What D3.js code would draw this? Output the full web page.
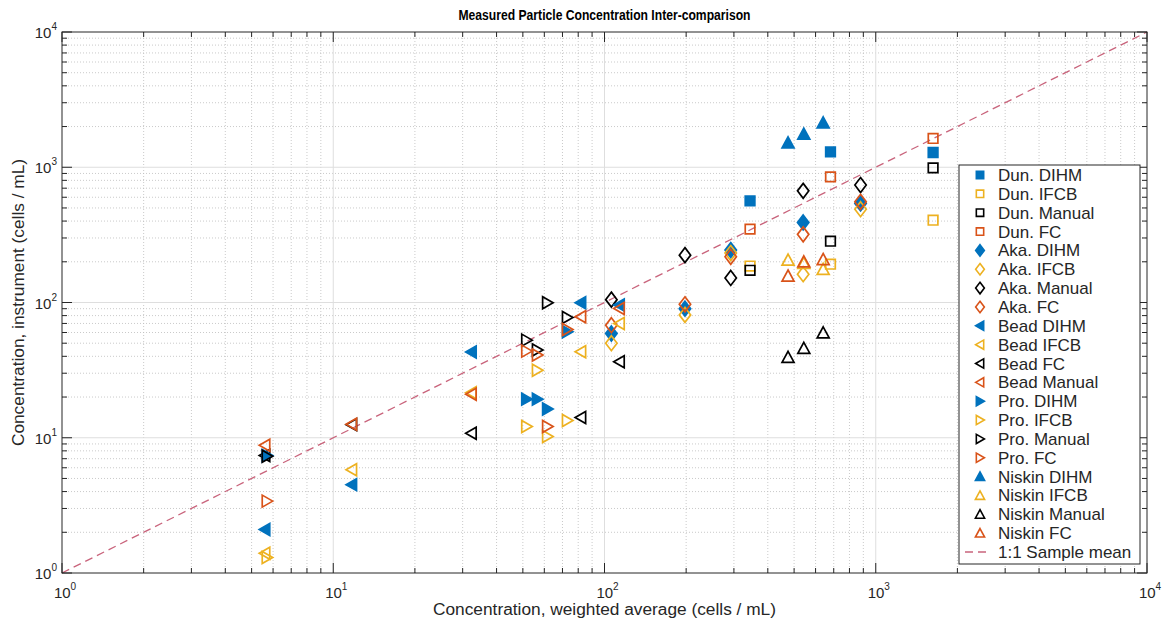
<!DOCTYPE html>
<html>
<head>
<meta charset="utf-8">
<script src="https://cdn.jsdelivr.net/npm/d3@7"></script>
<style>
  body { margin: 0; background: #fff; }
  svg { font-family: "Liberation Sans", Arial, sans-serif; }
</style>
</head>
<body>
<svg id="chart" width="1168" height="624"></svg>
<script>
// Sample concentrations: x = weighted average, one array per instrument (cells / mL)
const dunX      = [344, 681, 1627];
const dunDIHM   = [565, 1300, 1286];
const dunIFCB   = [186, 192, 406];
const dunManual = [173, 284, 990];
const dunFC     = [349, 849, 1633];

const akaX      = [106, 198, 292, 540, 879];
const akaDIHM   = [59, 90, 244, 391, 540];
const akaIFCB   = [50, 81, 232, 162, 490];
const akaManual = [105, 224, 152, 669, 738];
const akaFC     = [68, 97, 218, 319, 555];

const beadX      = [5.6, 11.7, 32.3, 81.8, 113.5];
const beadDIHM   = [2.1, 4.5, 43, 99.5, 95.7];
const beadIFCB   = [1.4, 5.8, 21.5, 43.2, 70];
const beadFC     = [7.4, 12.5, 10.8, 14.1, 36.5];
const beadManual = [8.8, 12.6, 21, 78.4, 90.4];

const proX      = [5.7, 51.6, 56.5, 61.6, 72.9];
const proDIHM   = [7.4, 19.3, 19.3, 16.3, 60.7];
const proIFCB   = [1.3, 12.1, 31.6, 10.2, 13.4];
const proManual = [7.3, 52.7, 44.5, 99.5, 77.6];
const proFC     = [3.4, 43.7, 40.9, 12.1, 63.2];

const niskinX      = [475, 543, 640];
const niskinDIHM   = [1514, 1757, 2130];
const niskinIFCB   = [206, 195, 176];
const niskinManual = [39.3, 45.8, 59.7];
const niskinFC     = [157, 200, 208];

const axisDomain = [1, 1e4];
const decades = [0, 1, 2, 3, 4];

// legend order; colour goes by position inside each group of four
const series = [
  { label: "Dun. DIHM",     shape: "square",  x: dunX,    y: dunDIHM },
  { label: "Dun. IFCB",     shape: "square",  x: dunX,    y: dunIFCB },
  { label: "Dun. Manual",   shape: "square",  x: dunX,    y: dunManual },
  { label: "Dun. FC",       shape: "square",  x: dunX,    y: dunFC },
  { label: "Aka. DIHM",     shape: "diamond", x: akaX,    y: akaDIHM },
  { label: "Aka. IFCB",     shape: "diamond", x: akaX,    y: akaIFCB },
  { label: "Aka. Manual",   shape: "diamond", x: akaX,    y: akaManual },
  { label: "Aka. FC",       shape: "diamond", x: akaX,    y: akaFC },
  { label: "Bead DIHM",     shape: "left",    x: beadX,   y: beadDIHM },
  { label: "Bead IFCB",     shape: "left",    x: beadX,   y: beadIFCB },
  { label: "Bead FC",       shape: "left",    x: beadX,   y: beadFC },
  { label: "Bead Manual",   shape: "left",    x: beadX,   y: beadManual },
  { label: "Pro. DIHM",     shape: "right",   x: proX,    y: proDIHM },
  { label: "Pro. IFCB",     shape: "right",   x: proX,    y: proIFCB },
  { label: "Pro. Manual",   shape: "right",   x: proX,    y: proManual },
  { label: "Pro. FC",       shape: "right",   x: proX,    y: proFC },
  { label: "Niskin DIHM",   shape: "up",      x: niskinX, y: niskinDIHM },
  { label: "Niskin IFCB",   shape: "up",      x: niskinX, y: niskinIFCB },
  { label: "Niskin Manual", shape: "up",      x: niskinX, y: niskinManual },
  { label: "Niskin FC",     shape: "up",      x: niskinX, y: niskinFC }
];

const palette = ["#0072bd", "#edb120", "#000000", "#d95319"];
const lineColor = "#c9647c";

const svg = d3.select("#chart");
const margin = { top: 32, right: 21, bottom: 51, left: 62 };
const W = 1168, H = 624;

const x = d3.scaleLog().domain(axisDomain).range([margin.left, W - margin.right]);
const y = d3.scaleLog().domain(axisDomain).range([H - margin.bottom, margin.top]);
const [x0, x1] = x.range();
const [y0, y1] = y.range();

// custom marker shapes, size = half width
const shapes = {
  square:  { draw(c, r) { r *= 0.8; c.rect(-r, -r, 2 * r, 2 * r); } },
  diamond: { draw(c, r) { c.moveTo(0, -r * 1.25); c.lineTo(r * 0.95, 0); c.lineTo(0, r * 1.25); c.lineTo(-r * 0.95, 0); c.closePath(); } },
  up:      { draw(c, r) { c.moveTo(0, -r); c.lineTo(r, r * 0.85); c.lineTo(-r, r * 0.85); c.closePath(); } },
  left:    { draw(c, r) { c.moveTo(-r * 0.95, 0); c.lineTo(r * 0.8, -r); c.lineTo(r * 0.8, r); c.closePath(); } },
  right:   { draw(c, r) { c.moveTo(r * 0.95, 0); c.lineTo(-r * 0.8, -r); c.lineTo(-r * 0.8, r); c.closePath(); } }
};

const minorVals = [];
decades.slice(0, -1).forEach(k => {
  for (let m = 2; m <= 9; m++) minorVals.push(m * Math.pow(10, k));
});
const majorVals = decades.map(k => Math.pow(10, k));

// grid
const grid = svg.append("g");
grid.selectAll(".gx-minor").data(minorVals).join("line")
  .attr("x1", d => x(d)).attr("x2", d => x(d)).attr("y1", y0).attr("y2", y1)
  .attr("stroke", "#bdbdbd").attr("stroke-dasharray", "1,2").attr("stroke-width", 0.8);
grid.selectAll(".gy-minor").data(minorVals).join("line")
  .attr("y1", d => y(d)).attr("y2", d => y(d)).attr("x1", x0).attr("x2", x1)
  .attr("stroke", "#bdbdbd").attr("stroke-dasharray", "1,2").attr("stroke-width", 0.8);
grid.selectAll(".gx-major").data(majorVals.slice(1, -1)).join("line")
  .attr("x1", d => x(d)).attr("x2", d => x(d)).attr("y1", y0).attr("y2", y1)
  .attr("stroke", "#dedede").attr("stroke-width", 1);
grid.selectAll(".gy-major").data(majorVals.slice(1, -1)).join("line")
  .attr("y1", d => y(d)).attr("y2", d => y(d)).attr("x1", x0).attr("x2", x1)
  .attr("stroke", "#dedede").attr("stroke-width", 1);

// 1:1 line
svg.append("line")
  .attr("x1", x(axisDomain[0])).attr("y1", y(axisDomain[0]))
  .attr("x2", x(axisDomain[1])).attr("y2", y(axisDomain[1]))
  .attr("stroke", lineColor).attr("stroke-width", 1.3)
  .attr("stroke-dasharray", "8,5");

// markers
series.forEach((s, i) => {
  const col = palette[i % 4];
  const filled = i % 4 === 0;
  const sym = d3.symbol().type(shapes[s.shape]).size(6);
  svg.append("g").selectAll("path")
    .data(s.x.map((xv, j) => [xv, s.y[j]]))
    .join("path")
      .attr("transform", d => `translate(${x(d[0])},${y(d[1])})`)
      .attr("d", sym)
      .attr("fill", filled ? col : "none")
      .attr("stroke", col)
      .attr("stroke-width", 1.7)
      .attr("stroke-linejoin", "miter");
});

// axes box with inward ticks
const axes = svg.append("g").attr("stroke", "#262626").attr("stroke-width", 1);
axes.append("rect")
  .attr("x", x0).attr("y", y1).attr("width", x1 - x0).attr("height", y0 - y1)
  .attr("fill", "none");
const tickVals = majorVals.map(v => ({ v, len: 10 })).concat(minorVals.map(v => ({ v, len: 5 })));
tickVals.forEach(t => {
  const px = x(t.v), py = y(t.v);
  axes.append("line").attr("x1", px).attr("x2", px).attr("y1", y0).attr("y2", y0 - t.len);
  axes.append("line").attr("x1", px).attr("x2", px).attr("y1", y1).attr("y2", y1 + t.len);
  axes.append("line").attr("y1", py).attr("y2", py).attr("x1", x0).attr("x2", x0 + t.len);
  axes.append("line").attr("y1", py).attr("y2", py).attr("x1", x1).attr("x2", x1 - t.len);
});

// tick labels 10^k
function powerLabel(g, k) {
  g.append("tspan").text("10");
  g.append("tspan").attr("font-size", 10).attr("dy", -8).text(k);
}
decades.forEach(k => {
  const v = Math.pow(10, k);
  powerLabel(svg.append("text")
    .attr("x", x(v) + 3).attr("y", y0 + 25)
    .attr("text-anchor", "middle")
    .attr("font-size", 15).attr("fill", "#262626"), k);
  powerLabel(svg.append("text")
    .attr("x", x0 - 5).attr("y", y(v) + 6)
    .attr("text-anchor", "end")
    .attr("font-size", 15).attr("fill", "#262626"), k);
});

// titles
svg.append("text")
  .attr("x", (x0 + x1) / 2).attr("y", 20)
  .attr("text-anchor", "middle")
  .attr("font-size", 14.5).attr("font-weight", "bold")
  .attr("textLength", 292).attr("lengthAdjust", "spacingAndGlyphs")
  .text("Measured Particle Concentration Inter-comparison");

svg.append("text")
  .attr("x", (x0 + x1) / 2).attr("y", 615)
  .attr("text-anchor", "middle")
  .attr("font-size", 17.3).attr("fill", "#262626")
  .text("Concentration, weighted average (cells / mL)");

svg.append("text")
  .attr("transform", `translate(24,${(y0 + y1) / 2}) rotate(-90)`)
  .attr("text-anchor", "middle")
  .attr("font-size", 17.3).attr("fill", "#262626")
  .text("Concentration, instrument (cells / mL)");

// legend
const lg = svg.append("g");
const rowH = 18.85, lgTop = 175, lgX = 959;
const legendRows = series.map(s => s.label).concat(["1:1 Sample mean"]);
lg.append("rect")
  .attr("x", lgX).attr("y", 165)
  .attr("width", 181).attr("height", 399)
  .attr("fill", "#fff").attr("stroke", "#262626").attr("stroke-width", 1);

series.forEach((s, i) => {
  const col = palette[i % 4];
  const filled = i % 4 === 0;
  lg.append("path")
    .attr("transform", `translate(980,${lgTop + i * rowH})`)
    .attr("d", d3.symbol().type(shapes[s.shape]).size(4.6)())
    .attr("fill", filled ? col : "none")
    .attr("stroke", col).attr("stroke-width", 1.6);
});
const lastY = lgTop + series.length * rowH;
lg.append("line")
  .attr("x1", 965).attr("x2", 991).attr("y1", lastY).attr("y2", lastY)
  .attr("stroke", lineColor).attr("stroke-width", 1.3).attr("stroke-dasharray", "8,5");
lg.selectAll("text").data(legendRows).join("text")
  .attr("x", 998).attr("y", (d, i) => lgTop + i * rowH + 6)
  .attr("font-size", 17).attr("fill", "#262626")
  .text(d => d);
</script>
</body>
</html>
